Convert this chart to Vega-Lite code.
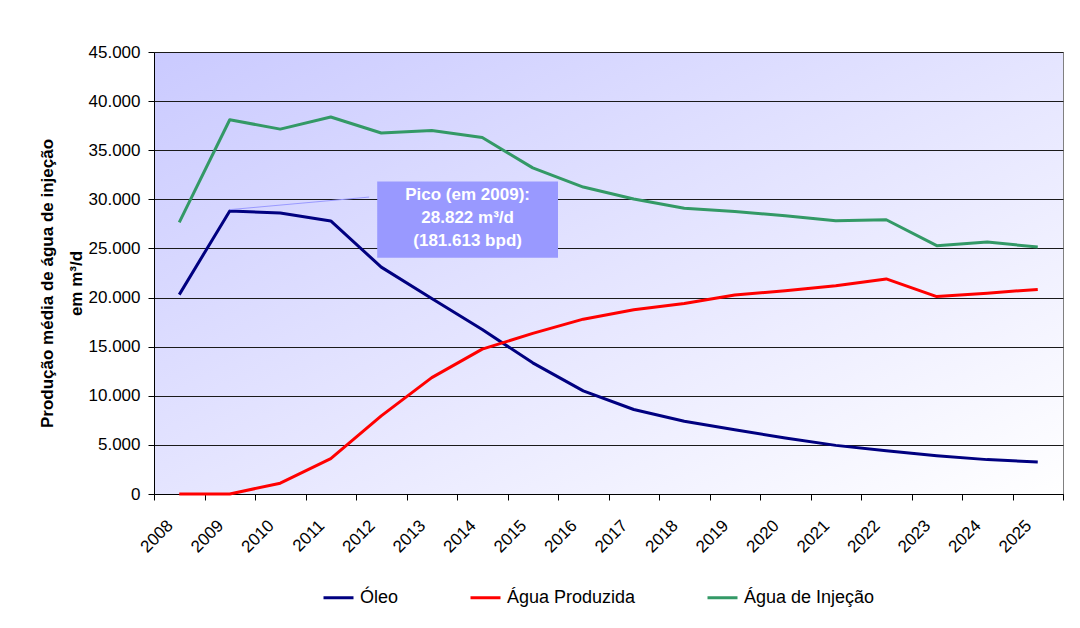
{
  "$schema": "https://vega.github.io/schema/vega-lite/v6.json",
  "width": 909,
  "height": 442,
  "autosize": {"type": "none"},
  "padding": {"left": 154, "top": 52, "right": 17, "bottom": 134},
  "background": "white",
  "config": {
    "locale": {"number": {"decimal": ",", "thousands": ".", "grouping": [3], "currency": ["R$", ""]}},
    "font": "Liberation Sans",
    "view": {
      "stroke": "#808080",
      "strokeWidth": 1,
      "fill": {"gradient": "linear", "x1": 0, "y1": 0, "x2": 1, "y2": 1,
        "stops": [{"offset": 0, "color": "#CACAFF"}, {"offset": 1, "color": "#FFFFFF"}]}
    }
  },
  "data": {"values": [
    {"ano": "2008", "serie": "Óleo", "valor": 20300},
    {"ano": "2009", "serie": "Óleo", "valor": 28822},
    {"ano": "2010", "serie": "Óleo", "valor": 28600},
    {"ano": "2011", "serie": "Óleo", "valor": 27800},
    {"ano": "2012", "serie": "Óleo", "valor": 23100},
    {"ano": "2013", "serie": "Óleo", "valor": 19900},
    {"ano": "2014", "serie": "Óleo", "valor": 16750},
    {"ano": "2015", "serie": "Óleo", "valor": 13350},
    {"ano": "2016", "serie": "Óleo", "valor": 10500},
    {"ano": "2017", "serie": "Óleo", "valor": 8600},
    {"ano": "2018", "serie": "Óleo", "valor": 7400},
    {"ano": "2019", "serie": "Óleo", "valor": 6550},
    {"ano": "2020", "serie": "Óleo", "valor": 5700},
    {"ano": "2021", "serie": "Óleo", "valor": 4950},
    {"ano": "2022", "serie": "Óleo", "valor": 4400},
    {"ano": "2023", "serie": "Óleo", "valor": 3900},
    {"ano": "2024", "serie": "Óleo", "valor": 3500},
    {"ano": "2025", "serie": "Óleo", "valor": 3260},
    {"ano": "2008", "serie": "Água Produzida", "valor": 0},
    {"ano": "2009", "serie": "Água Produzida", "valor": 0},
    {"ano": "2010", "serie": "Água Produzida", "valor": 1100},
    {"ano": "2011", "serie": "Água Produzida", "valor": 3600},
    {"ano": "2012", "serie": "Água Produzida", "valor": 7950},
    {"ano": "2013", "serie": "Água Produzida", "valor": 11850},
    {"ano": "2014", "serie": "Água Produzida", "valor": 14750},
    {"ano": "2015", "serie": "Água Produzida", "valor": 16350},
    {"ano": "2016", "serie": "Água Produzida", "valor": 17800},
    {"ano": "2017", "serie": "Água Produzida", "valor": 18750},
    {"ano": "2018", "serie": "Água Produzida", "valor": 19400},
    {"ano": "2019", "serie": "Água Produzida", "valor": 20250},
    {"ano": "2020", "serie": "Água Produzida", "valor": 20700},
    {"ano": "2021", "serie": "Água Produzida", "valor": 21200},
    {"ano": "2022", "serie": "Água Produzida", "valor": 21900},
    {"ano": "2023", "serie": "Água Produzida", "valor": 20100},
    {"ano": "2024", "serie": "Água Produzida", "valor": 20450},
    {"ano": "2025", "serie": "Água Produzida", "valor": 20830},
    {"ano": "2008", "serie": "Água de Injeção", "valor": 27650},
    {"ano": "2009", "serie": "Água de Injeção", "valor": 38100},
    {"ano": "2010", "serie": "Água de Injeção", "valor": 37150},
    {"ano": "2011", "serie": "Água de Injeção", "valor": 38380},
    {"ano": "2012", "serie": "Água de Injeção", "valor": 36750},
    {"ano": "2013", "serie": "Água de Injeção", "valor": 37000},
    {"ano": "2014", "serie": "Água de Injeção", "valor": 36300},
    {"ano": "2015", "serie": "Água de Injeção", "valor": 33200},
    {"ano": "2016", "serie": "Água de Injeção", "valor": 31250},
    {"ano": "2017", "serie": "Água de Injeção", "valor": 30030},
    {"ano": "2018", "serie": "Água de Injeção", "valor": 29100},
    {"ano": "2019", "serie": "Água de Injeção", "valor": 28770},
    {"ano": "2020", "serie": "Água de Injeção", "valor": 28330},
    {"ano": "2021", "serie": "Água de Injeção", "valor": 27820},
    {"ano": "2022", "serie": "Água de Injeção", "valor": 27920},
    {"ano": "2023", "serie": "Água de Injeção", "valor": 25280},
    {"ano": "2024", "serie": "Água de Injeção", "valor": 25650},
    {"ano": "2025", "serie": "Água de Injeção", "valor": 25140}
  ]},
  "layer": [
    {
      "mark": {"type": "line", "strokeWidth": 3, "strokeJoin": "round"},
      "encoding": {
        "x": {
          "field": "ano", "type": "ordinal",
          "scale": {"paddingInner": 0, "paddingOuter": 0},
          "axis": {
            "title": null, "labelAngle": -45, "labelFontSize": 17, "labelColor": "black",
            "domainColor": "black", "tickColor": "black", "tickSize": 6, "tickBand": "extent",
            "labelPadding": 17, "labelOffset": -15, "grid": false
          }
        },
        "y": {
          "field": "valor", "type": "quantitative",
          "scale": {"domain": [0, 45000], "nice": false},
          "axis": {
            "values": [0, 5000, 10000, 15000, 20000, 25000, 30000, 35000, 40000, 45000],
            "format": ",.0f",
            "title": ["Produção média de água de injeção", "em m³/d"],
            "titleFontSize": 17, "titleFontWeight": "bold", "titleColor": "black",
            "titleLineHeight": 29, "titleX": -107, "titleY": 231, "titleAngle": -90,
            "titleAlign": "center", "titleBaseline": "middle",
            "labelFontSize": 17, "labelColor": "black", "labelPadding": 8,
            "domainColor": "black", "tickColor": "black", "tickSize": 6,
            "grid": true, "gridColor": "#1a1a1a", "gridWidth": 1
          }
        },
        "color": {
          "field": "serie", "type": "nominal",
          "scale": {"domain": ["Óleo", "Água Produzida", "Água de Injeção"], "range": ["#000080", "#FF0000", "#339966"]},
          "legend": {
            "title": null, "orient": "none", "direction": "horizontal",
            "legendX": 168, "legendY": 529,
            "symbolType": "stroke", "symbolSize": 900, "symbolStrokeWidth": 3,
            "labelFontSize": 18, "labelColor": "black", "labelOffset": 5,
            "columnPadding": 65
          }
        }
      }
    },
    {
      "data": {"values": [{}]},
      "mark": {"type": "rule", "color": "#9999FF", "strokeWidth": 1},
      "encoding": {
        "x": {"datum": "2009", "type": "ordinal", "bandPosition": 0.5},
        "x2": {"datum": "2012", "bandPosition": 0.26},
        "y": {"datum": 28950, "type": "quantitative"},
        "y2": {"datum": 30230}
      }
    },
    {
      "data": {"values": [{}]},
      "mark": {"type": "rect", "color": "#9999FF", "opacity": 1},
      "encoding": {
        "x": {"datum": "2012", "type": "ordinal", "bandPosition": 0.42},
        "x2": {"datum": "2015", "bandPosition": 1},
        "y": {"datum": 31820, "type": "quantitative"},
        "y2": {"datum": 24050}
      }
    },
    {
      "data": {"values": [{}]},
      "mark": {
        "type": "text", "color": "white", "fontWeight": "bold", "fontSize": 17,
        "align": "center", "baseline": "middle", "lineHeight": 23,
        "text": ["Pico (em 2009):", "28.822 m³/d", "(181.613 bpd)"]
      },
      "encoding": {
        "x": {"datum": "2014", "type": "ordinal", "bandPosition": 0.21},
        "y": {"datum": 30450, "type": "quantitative"}
      }
    }
  ]
}
